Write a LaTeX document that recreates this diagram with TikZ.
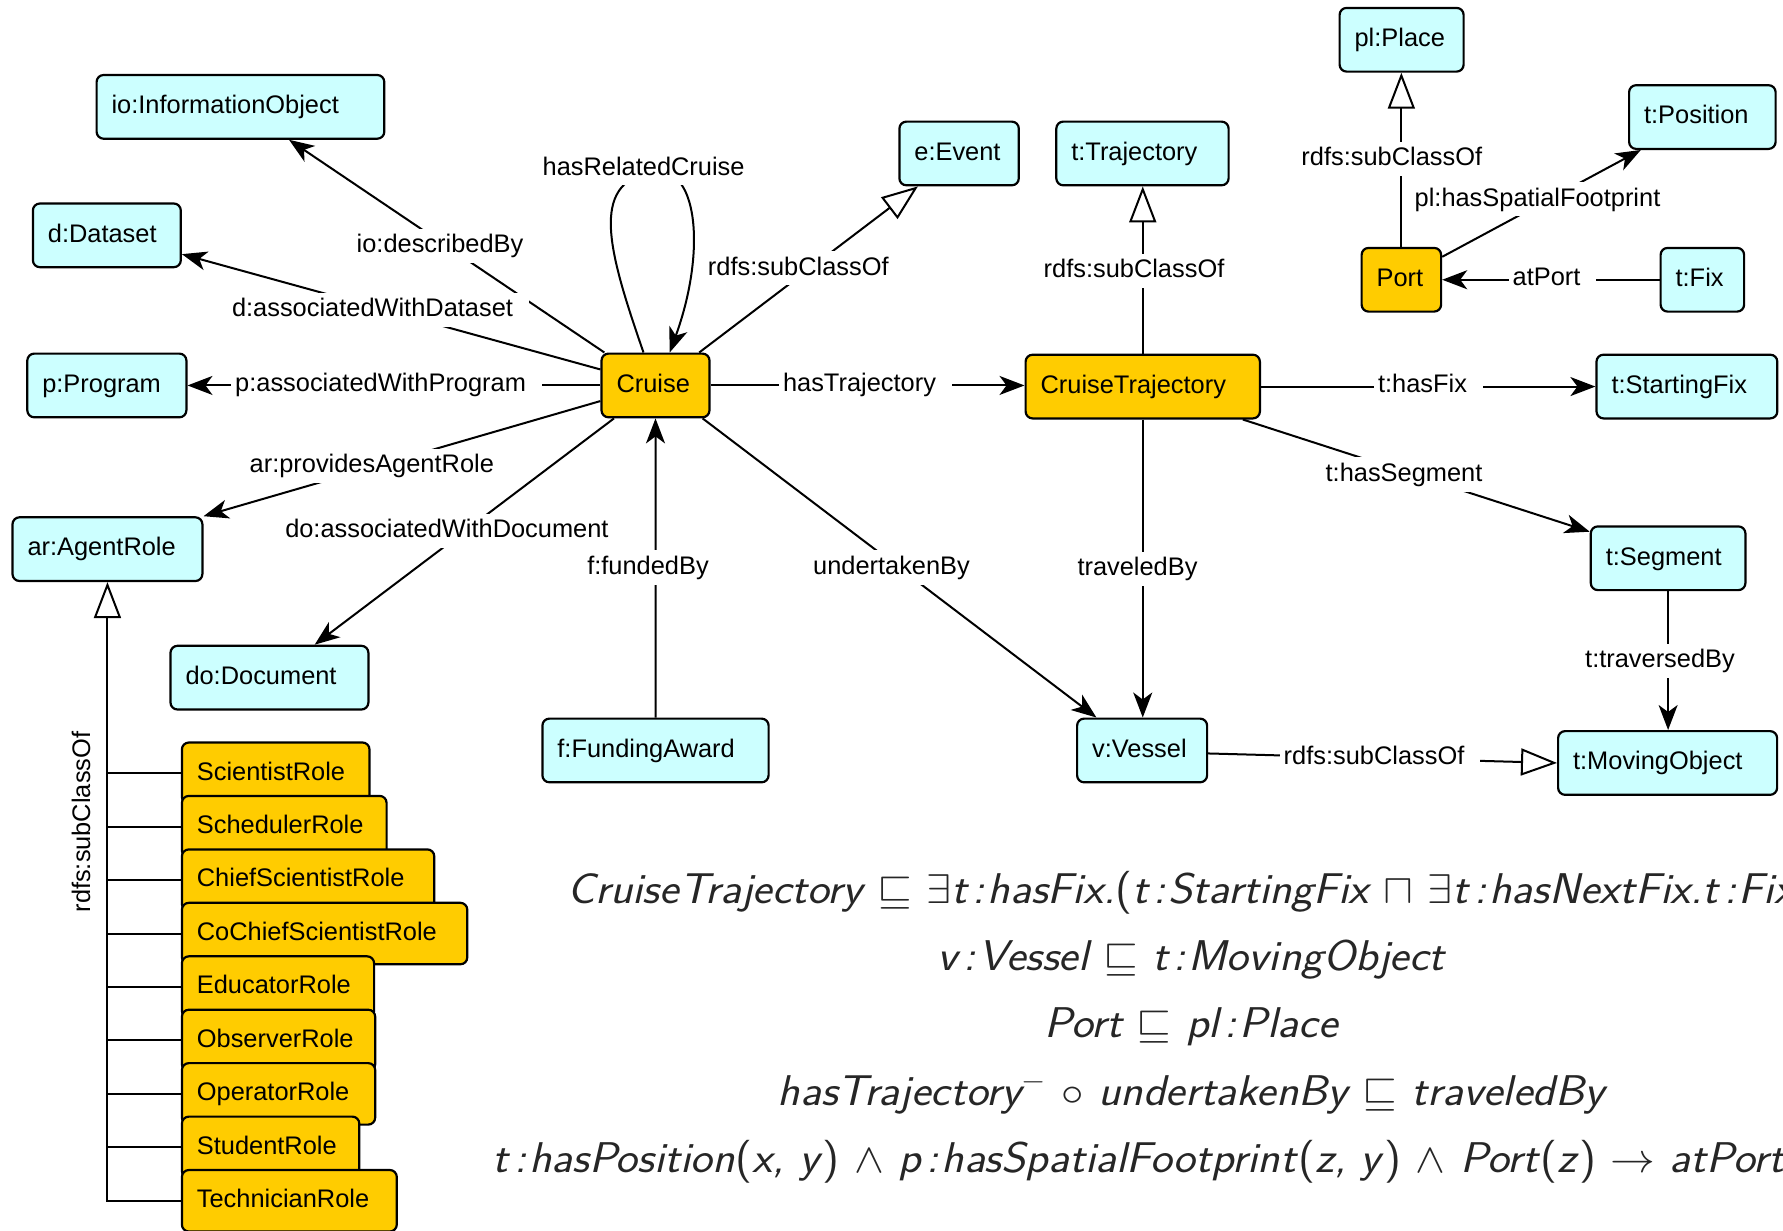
\documentclass[tikz,border=0pt]{standalone}
\usepackage{graphicx}
\usepackage{fontspec}
\setmainfont{Liberation Sans}
\usetikzlibrary{arrows.meta}

\definecolor{clsfill}{RGB}{204,255,255}
\definecolor{corefill}{RGB}{255,204,0}

% box with its top-left corner at (#3,#4) and right edge at #5
\newcommand\mkbox[6]{%
  \pgfmathsetmacro\boxtw{(#5-#3)*0.5-15}%
  \node[#1, text width=\boxtw pt] (#2) at (#3,#4) {#6};}
% colon as used in the axioms
\newcommand\cln{\kern0.12em:\kern0.06em}
% axioms are set slightly wide
\newcommand\wide[1]{\scalebox{1.08}[1]{#1}}

\begin{document}
\begin{tikzpicture}[x=0.5pt, y=-0.5pt,
  boxbase/.style={draw=black, line width=1.1pt, rounded corners=3.5pt,
    anchor=north west, minimum height=31.85pt, inner xsep=7.5pt, inner ysep=0pt,
    align=left, font=\fontsize{12.7}{15}\selectfont, text height=9.4pt, text depth=2.6pt},
  cls/.style={boxbase, fill=clsfill},
  core/.style={boxbase, fill=corefill},
  role/.style={core, minimum height=30.75pt},
  rel/.style={line width=1pt, -{Stealth[length=12.5pt, width=9.5pt, inset=3.5pt]}},
  link/.style={line width=1pt},
  isa/.style={line width=1pt, -{Triangle[fill=white, length=18pt, width=13.5pt]}},
  elabel/.style={fill=white, inner xsep=2pt, inner ysep=2.5pt,
    font=\fontsize{12.7}{15}\selectfont, text height=9.4pt, text depth=2.7pt,
    execute at end node={\hspace*{6pt}}},
  vlabel/.style={rotate=90, font=\fontsize{12.7}{15}\selectfont},
  axiom/.style={anchor=base, text=black!85,
    font=\fontsize{21.5}{25}\selectfont\sffamily\itshape}
]
\path[use as bounding box, fill=white] (0,0) rectangle (1783,1231);

% ---- classes ----
\mkbox{cls}{io}{95.5}{73.9}{383.2}{io:InformationObject}
\mkbox{cls}{ds}{31.8}{202.4}{179.7}{d:Dataset}
\mkbox{cls}{prog}{26.2}{352.5}{185.3}{p:Program}
\mkbox{cls}{ar}{11.4}{516.2}{201.3}{ar:AgentRole}
\mkbox{cls}{doc}{169.4}{644.7}{367.3}{do:Document}
\mkbox{core}{cruise}{600.4}{352.5}{708.4}{Cruise}
\mkbox{cls}{event}{898.3}{120.5}{1017.7}{e:Event}
\mkbox{cls}{traj}{1055.2}{120.5}{1227.5}{t:Trajectory}
\mkbox{core}{ctraj}{1024.5}{353.6}{1258.8}{CruiseTrajectory}
\mkbox{cls}{place}{1338.5}{6.8}{1462.5}{pl:Place}
\mkbox{cls}{position}{1628}{84.1}{1774.5}{t:Position}
\mkbox{core}{port}{1360.5}{246.8}{1440}{Port}
\mkbox{cls}{fix}{1659.5}{246.8}{1743}{t:Fix}
\mkbox{cls}{sfix}{1595.4}{353.6}{1776.2}{t:StartingFix}
\mkbox{cls}{seg}{1589.7}{525.3}{1744.3}{t:Segment}
\mkbox{cls}{mo}{1557}{730}{1776}{t:MovingObject}
\mkbox{cls}{vessel}{1076}{717.5}{1206}{v:Vessel}
\mkbox{cls}{award}{541.3}{717.5}{767.5}{f:FundingAward}

% ---- agent roles ----
\mkbox{role}{rsci}{180.8}{741.4}{368.4}{ScientistRole}
\mkbox{role}{rsch}{180.8}{794.8}{385.5}{SchedulerRole}
\mkbox{role}{rchief}{180.8}{848.3}{433.2}{ChiefScientistRole}
\mkbox{role}{rcochief}{180.8}{901.7}{466.2}{CoChiefScientistRole}
\mkbox{role}{redu}{180.8}{955.2}{373}{EducatorRole}
\mkbox{role}{robs}{180.8}{1008.6}{374.1}{ObserverRole}
\mkbox{role}{rop}{180.8}{1062.0}{374.1}{OperatorRole}
\mkbox{role}{rstu}{180.8}{1115.5}{358.2}{StudentRole}
\mkbox{role}{rtech}{180.8}{1168.9}{395.7}{TechnicianRole}

\foreach \r in {rsci,rsch,rchief,rcochief,redu,robs,rop,rstu}
  \draw[link] (ar.south |- \r.west) -- (\r.west);
\draw[isa] (rtech.west) -| (ar.south)
  node[vlabel] at (81,822) {rdfs:subClassOf};

% ---- relations around Cruise ----
\draw[rel] ([xshift=2pt]cruise.north west) -- ([xshift=24.3pt]io.south)
  node[elabel] at (446,246) {io:describedBy};
\draw[rel] ([yshift=8pt]cruise.west) -- ([yshift=-9.4pt]ds.east)
  node[elabel] at (378.5,310) {d:associatedWithDataset};
\draw[rel] (cruise.west) -- (prog.east)
  node[elabel] at (386.6,384.35) {p:associatedWithProgram};
\draw[rel] ([yshift=-7.8pt]cruise.west) -- (ar.north east)
  node[elabel] at (377.8,466) {ar:providesAgentRole};
\draw[rel] ([xshift=6.8pt]cruise.south west) -- ([xshift=22.6pt]doc.north)
  node[elabel] at (452.9,531) {do:associatedWithDocument};
\draw[rel] ([xshift=-6pt]cruise.north) .. controls (608,250) and (590,185) .. (650,172)
  .. controls (698,161) and (707,250) .. ([xshift=7.1pt]cruise.north)
  node[elabel] at (649.6,168.3) {hasRelatedCruise};
\draw[isa] ([xshift=-5.7pt]cruise.north east) -- ([xshift=-20.6pt]event.south)
  node[elabel] at (804.3,268.3) {rdfs:subClassOf};
\draw[rel] (cruise.east) -- (cruise.east -| ctraj.west)
  node[elabel] at (865.5,384.35) {hasTrajectory};
\draw[rel] (award.north) -- (cruise.south)
  node[elabel] at (654,567.4) {f:fundedBy};
\draw[rel] ([xshift=-4pt]cruise.south east) -- ([xshift=10.2pt]vessel.north west)
  node[elabel] at (897.5,567.4) {undertakenBy};

% ---- relations around CruiseTrajectory ----
\draw[isa] (ctraj.north) -- (ctraj.north |- traj.south)
  node[elabel] at (1140,270.6) {rdfs:subClassOf};
\draw[rel] (ctraj.east) -- (ctraj.east -| sfix.west)
  node[elabel] at (1428.5,385.45) {t:hasFix};
\draw[rel] ([xshift=-9.1pt]ctraj.south east) -- ([yshift=-3.2pt]seg.north west)
  node[elabel] at (1410,474.5) {t:hasSegment};
\draw[rel] (ctraj.south) -- (ctraj.south |- vessel.north)
  node[elabel] at (1143.5,569) {traveledBy};
\draw[isa] ([yshift=-1.5pt]vessel.east) -- (mo.west)
  node[elabel] at (1380,757.5) {rdfs:subClassOf};
\draw[rel] (seg.south) -- (seg.south |- mo.north)
  node[elabel] at (1666,660.7) {t:traversedBy};

% ---- Port ----
\draw[isa] (port.north) -- (port.north |- place.south)
  node[elabel] at (1397.8,159.2) {rdfs:subClassOf};
\draw[rel] ([yshift=-5pt]port.north east) -- ([xshift=6.4pt]position.south west)
  node[elabel] at (1543.5,199.3) {pl:hasSpatialFootprint};
\draw[rel] (fix.west) -- (fix.west -| port.east)
  node[elabel] at (1552.5,278.65) {atPort};

% ---- axioms ----
\node[axiom] (ax1) at (1191,903) {\wide{CruiseTrajectory $\sqsubseteq$ $\exists$t\cln hasFix.\textup{(}t\cln StartingFix $\sqcap$ $\exists$t\cln hasNextFix.t\cln Fix\textup{)}}};
\node[axiom] (ax2) at (1191,970) {\wide{v\cln Vessel $\sqsubseteq$ t\cln MovingObject}};
\node[axiom] (ax3) at (1191,1037) {\wide{Port $\sqsubseteq$ pl\cln Place}};
\node[axiom] (ax4) at (1191,1105) {\wide{hasTrajectory\textsuperscript{$-$} $\circ$ undertakenBy $\sqsubseteq$ traveledBy}};
\node[axiom] (ax5) at (1191,1172) {\wide{t\cln hasPosition\textup{(}x, y\textup{)} $\wedge$ p\cln hasSpatialFootprint\textup{(}z, y\textup{)} $\wedge$ Port\textup{(}z\textup{)} $\rightarrow$ atPort\textup{(}x, z\textup{)}}};
\end{tikzpicture}
\end{document}
